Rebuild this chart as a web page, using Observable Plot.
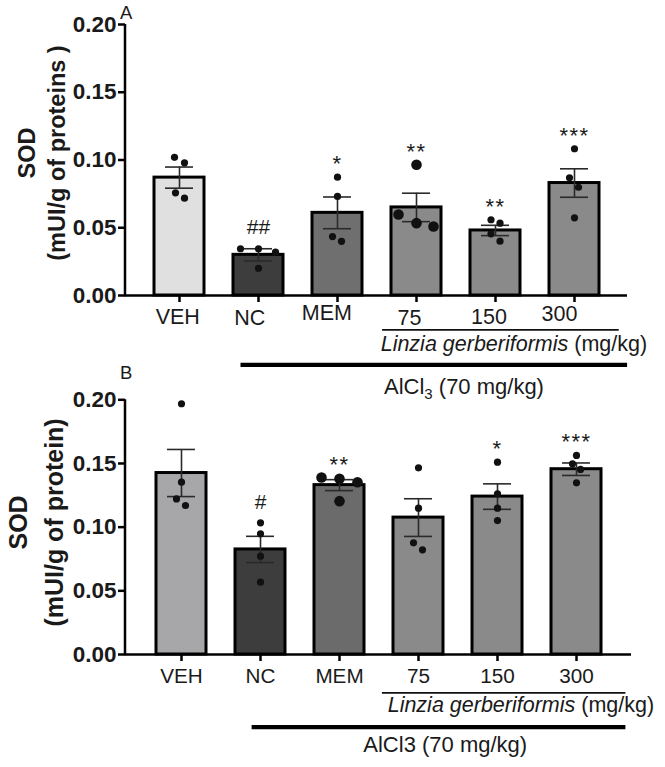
<!DOCTYPE html>
<html>
<head>
<meta charset="utf-8">
<script src="https://cdn.jsdelivr.net/npm/d3@7"></script>
<script src="https://cdn.jsdelivr.net/npm/@observablehq/plot@0.6"></script>
<style>
  body { margin: 0; background: #fff; }
  #fig { position: relative; width: 665px; height: 767px; font-family: "Liberation Sans", Arial, sans-serif; }
  #fig svg { position: absolute; left: 0; }
</style>
</head>
<body>
<div id="fig"></div>
<script>
// ---- data ----------------------------------------------------------------
const groups = ["VEH", "NC", "MEM", "75", "150", "300"];
const yTicks = [0, 0.05, 0.10, 0.15, 0.20];

// Panel A: SOD (mUI/g of proteins), mean ± SEM with individual animals
const meanA = [0.087, 0.030, 0.061, 0.065, 0.048, 0.083];
const semA  = [0.0078, 0.0045, 0.0117, 0.0105, 0.0038, 0.0105];
const pointsA = [
  [0.1020, 0.0979, 0.0758, 0.0718],
  [0.0345, 0.0345, 0.0320, 0.0201],
  [0.0873, 0.0731, 0.0435, 0.0400],
  [0.0965, 0.0598, 0.0534, 0.0509],
  [0.0559, 0.0534, 0.0455, 0.0401],
  [0.1083, 0.0869, 0.0799, 0.0573]
];
const signifA = ["", "##", "*", "**", "**", "***"];

// Panel B: SOD (mUI/g of protein)
const meanB = [0.1425, 0.0825, 0.133, 0.1075, 0.124, 0.1455];
const semB  = [0.0185, 0.0103, 0.0043, 0.0148, 0.0100, 0.0049];
const pointsB = [
  [0.1969, 0.1353, 0.1222, 0.1170],
  [0.1034, 0.0948, 0.0772, 0.0568],
  [0.1390, 0.1380, 0.1353, 0.1204],
  [0.1466, 0.1149, 0.0877, 0.0822],
  [0.1510, 0.1262, 0.1149, 0.1052],
  [0.1563, 0.1497, 0.1453, 0.1348]
];
const signifB = ["", "#", "**", "", "*", "***"];

// ---- styling -------------------------------------------------------------
const FONT = '"Liberation Sans", Arial, sans-serif';
const INK = "#1a1a1a";
const fillsA = {VEH: "#e0e0e0", NC: "#3d3d3d", MEM: "#6f6f6f", "75": "#8a8a8a", "150": "#8a8a8a", "300": "#8a8a8a"};
const fillsB = {VEH: "#a7a7a9", NC: "#3d3d3d", MEM: "#6b6b6b", "75": "#8a8a8a", "150": "#8a8a8a", "300": "#8a8a8a"};
// horizontal scatter of the animals inside each bar (px)
const spreadA = [[-5, 5, -4, 5], [-18, 0, 17, 0], [0, 0, -5, 4], [0, -18, 0, 17], [-4.5, 4.5, -4.5, 4.5], [0, -5, 4, 0]];
const spreadB = [[0, 0, -5, 4], [0, 0, 0, 0], [-18, 0, 18, 0], [0, 0, -5, 4], [0, 0, 0, 0], [0, -4, 4, 0]];
// hand-placed group labels in panel A: [dx, dy] in px from the tick
const labelNudgeA = {VEH: [-1.7, 0], NC: [-8.7, 1.7], MEM: [-10.7, -3.3], "75": [-7, 1.7], "150": [-6.5, 0], "300": [-15, -2.3]};

function drawPanel(cfg) {
  const rows = groups.map((g, i) => ({
    group: g, mean: cfg.means[i], sem: cfg.sems[i], sig: cfg.signif[i],
    top: Math.max(cfg.means[i] + cfg.sems[i], ...cfg.points[i])
  }));
  const animals = groups.flatMap((g, i) => cfg.points[i].map((v, j) => ({
    group: g, value: v, dx: cfg.spread[i][j], r: cfg.bigDots.includes(g) ? 5.3 : 3.6
  })));
  const dotMarks = Array.from(d3.group(animals, d => d.dx + "|" + d.r), ([, arr]) =>
    Plot.dot(arr, {x: "group", y: "value", dx: arr[0].dx, r: arr[0].r, fill: "#111", stroke: "none"}));

  const one = [{}];
  const at = (g) => () => g;

  // category labels: either the axis' own labels or individually nudged ones
  const labelMarks = cfg.labelNudge
    ? groups.map(g => Plot.text(one, {x: at(g), y: () => 0, text: at(g), textAnchor: "middle", lineAnchor: "top",
        fontSize: cfg.xFont, fill: INK, dx: cfg.labelNudge[g][0], dy: 7 + cfg.xPad + cfg.labelNudge[g][1]}))
    : [];

  const plot = Plot.plot({
    width: 665,
    height: cfg.height,
    marginLeft: 125,
    marginRight: cfg.marginRight,
    marginTop: cfg.marginTop,
    marginBottom: cfg.marginBottom,
    style: {background: "transparent", fontFamily: FONT, overflow: "visible", color: INK},
    x: {domain: groups, paddingInner: 0.37, paddingOuter: 0.36, axis: null},
    y: {domain: [0, 0.2], axis: null},
    color: {type: "identity"},
    marks: [
      Plot.barY(rows, {x: "group", y: "mean", fill: d => cfg.fills[d.group], stroke: "#000", strokeWidth: 3}),
      Plot.ruleX(rows, {x: "group", y1: d => d.mean - d.sem, y2: d => d.mean + d.sem, stroke: "#2a2a2a", strokeWidth: 1.6}),
      Plot.tickY(rows, {x: "group", y: d => d.mean + d.sem, inset: 11, stroke: "#2a2a2a", strokeWidth: 1.6}),
      Plot.tickY(rows, {x: "group", y: d => d.mean - d.sem, inset: 11, stroke: "#2a2a2a", strokeWidth: 1.6}),
      ...dotMarks,
      // significance marks above each group
      Plot.text(rows.filter(d => d.sig.startsWith("*")), {x: "group", y: "top", text: "sig", dy: -13,
        fontSize: 22, fill: INK, lineAnchor: "middle", textAnchor: "middle"}),
      Plot.text(rows.filter(d => d.sig.startsWith("#")), {x: "group", y: "top", text: "sig", dy: -21,
        fontSize: 21, fill: INK, lineAnchor: "middle", textAnchor: "middle"}),
      // axes
      Plot.ruleY([0], {stroke: "#000", strokeWidth: 2.5}),
      Plot.axisY({ticks: yTicks, tickFormat: d3.format(".2f"), tickSize: 7, tickPadding: 2, strokeWidth: 2.5,
        stroke: "#000", fill: INK, fontSize: 22.5, fontWeight: "bold", label: null}),
      Plot.axisX({tickSize: 7, tickPadding: cfg.xPad, strokeWidth: 2.5, stroke: "#000",
        fill: cfg.labelNudge ? "none" : INK, fontSize: cfg.xFont, label: null}),
      ...labelMarks,
      // y-axis title
      Plot.text(one, {frameAnchor: "left", text: () => cfg.yTitle, rotate: -90, textAnchor: "middle",
        lineAnchor: "middle", lineHeight: cfg.titleLine, fontSize: cfg.titleFont, fontWeight: "bold",
        fill: INK, dx: cfg.titleDx, dy: cfg.titleDy}),
      // panel letter
      Plot.text(one, {frameAnchor: "top-left", text: () => cfg.letter, textAnchor: "start", lineAnchor: "middle",
        fontSize: 18.5, fill: INK, dx: -5.5, dy: cfg.letterDy}),
      // treatment brackets under the axis
      Plot.ruleY([0], {x1: at("75"), x2: at("300"), dy: cfg.thin.dy, insetLeft: cfg.thin.l, insetRight: cfg.thin.r,
        stroke: "#111", strokeWidth: 1.8}),
      Plot.text(one, {x: at("150"), y: () => 0, text: () => "Linzia gerberiformis (mg/kg)", dx: cfg.extractDx,
        dy: cfg.extractDy, fontSize: 21.5, fill: INK, textAnchor: "middle", lineAnchor: "middle"}),
      Plot.ruleY([0], {x1: at("NC"), x2: at("300"), dy: cfg.thick.dy, insetLeft: cfg.thick.l, insetRight: cfg.thick.r,
        stroke: "#000", strokeWidth: 4.3}),
      Plot.text(one, {x: at("75"), y: () => 0, text: () => cfg.toxin, dx: cfg.toxinDx, dy: cfg.toxinDy,
        fontSize: 22, fill: INK, textAnchor: "start", lineAnchor: "middle"})
    ]
  });

  const svg = d3.select(plot);
  // vertical axis line along the y range
  const xr = plot.scale("x").range, yr = plot.scale("y").range;
  svg.append("line")
    .attr("x1", xr[0]).attr("x2", xr[0])
    .attr("y1", yr[0] + 1.25).attr("y2", yr[1])
    .attr("stroke", "#000").attr("stroke-width", 2.5);

  // italic species name and optional subscript
  svg.selectAll("text").each(function () {
    const t = d3.select(this);
    const s = this.textContent;
    if (s === "Linzia gerberiformis (mg/kg)") {
      t.text(null);
      t.append("tspan").attr("font-style", "italic").text("Linzia gerberiformis");
      t.append("tspan").text(" (mg/kg)");
    } else if (s === "AlCl₃ (70 mg/kg)") {
      t.text(null);
      t.append("tspan").text("AlCl");
      t.append("tspan").attr("font-size", 15).attr("dy", 5).text("3");
      t.append("tspan").attr("dy", -5).text(" (70 mg/kg)");
    }
  });
  svg.selectAll('g[aria-label="text"] text').filter(function () { return /^\*+$/.test(this.textContent); })
    .attr("letter-spacing", 1.5);

  plot.style.top = cfg.top + "px";
  return plot;
}

const fig = document.getElementById("fig");

fig.appendChild(drawPanel({
  top: 0, height: 400, marginTop: 24, marginBottom: 105, marginRight: 38,
  means: meanA, sems: semA, points: pointsA, signif: signifA, spread: spreadA, fills: fillsA, bigDots: ["75"],
  xFont: 21.5, xPad: 6, labelNudge: labelNudgeA,
  yTitle: "SOD\n(mUI/g of proteins )", titleFont: 23.5, titleLine: 1.26, titleDx: -85, titleDy: -7,
  letter: "A", letterDy: -11.5,
  thin: {dy: 34.3, l: -8.9, r: -19.7}, thick: {dy: 69.3, l: 7.5, r: -28.1},
  extractDx: 18.4, extractDy: 48.5,
  toxin: "AlCl₃ (70 mg/kg)", toxinDx: -32.5, toxinDy: 91.5
}));

fig.appendChild(drawPanel({
  top: 360, height: 407, marginTop: 39.3, marginBottom: 113, marginRight: 34,
  means: meanB, sems: semB, points: pointsB, signif: signifB, spread: spreadB, fills: fillsB, bigDots: ["MEM"],
  xFont: 20.7, xPad: 7, labelNudge: null,
  yTitle: "SOD\n(mUI/g of protein)", titleFont: 25, titleLine: 1.44, titleDx: -92, titleDy: -4.7,
  letter: "B", letterDy: -26.5,
  thin: {dy: 38.3, l: -11.1, r: -24.4}, thick: {dy: 72.7, l: 16.6, r: -24.4},
  extractDx: 23.4, extractDy: 51,
  toxin: "AlCl3 (70 mg/kg)", toxinDx: -55.2, toxinDy: 90
}));
</script>
</body>
</html>
